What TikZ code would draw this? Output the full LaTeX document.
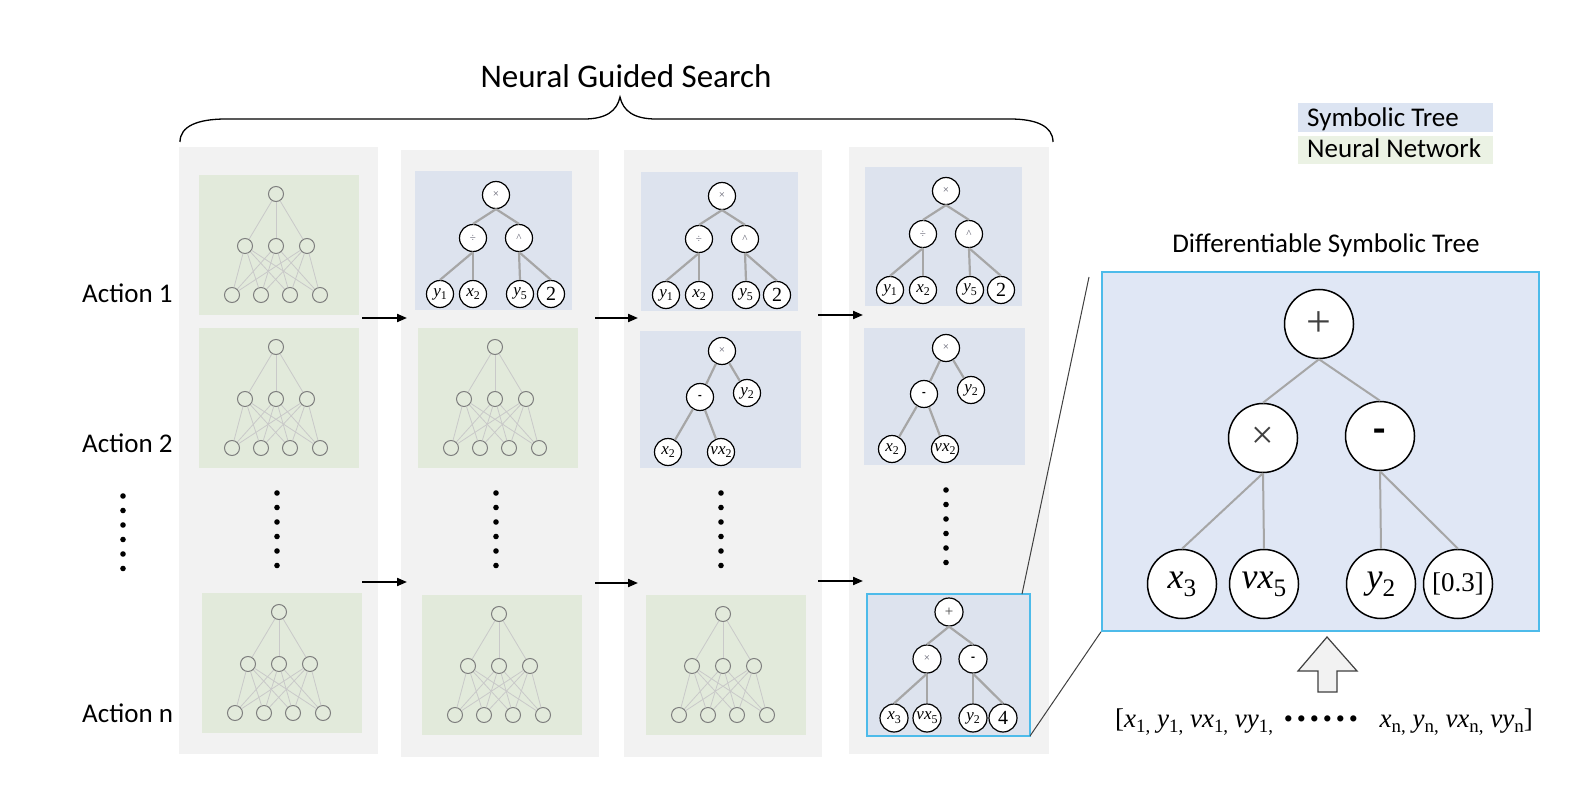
\documentclass[tikz,border=0pt]{standalone}
\usepackage{fontspec}
\usepackage{graphicx}
\setmainfont{Carlito}
\newfontfamily\tms{Liberation Serif}[ItalicFont={Liberation Serif Italic}]
\usetikzlibrary{arrows.meta}
\definecolor{colbg}{HTML}{F2F2F2}
\definecolor{nnbg}{HTML}{E2EADB}
\definecolor{stbg}{HTML}{DDE3EE}
\definecolor{bigbg}{HTML}{E0E7F5}
\definecolor{legblue}{HTML}{DCE4F2}
\definecolor{leggreen}{HTML}{EBF2E4}
\definecolor{cyanb}{HTML}{4DBBEA}
\definecolor{edgegray}{HTML}{A6A6A6}
\definecolor{nnedge}{HTML}{C9C9C9}
\definecolor{nncirc}{HTML}{7F7F7F}
\definecolor{opgray}{HTML}{5A5A6A}
\definecolor{linegray}{HTML}{404040}
\newcommand\sub[1]{\raisebox{-0.22em}{\scalebox{0.7}{\upshape #1}}}
\newcommand\vi[2]{\textit{#1}\sub{#2}}
\newcommand\fs[1]{\fontsize{#1}{#1}\selectfont}
\newcommand\bul{\makebox[13pt]{\textbullet}}
\tikzset{
 tn/.style={circle, draw=black, line width=1.2pt, fill=white, minimum size=27pt, inner sep=0pt, font=\tms\fs{17}},
 te/.style={draw=edgegray, line width=2.2pt},
 bn/.style={tn, minimum size=69pt, line width=1.5pt, font=\tms\fs{36}},
 be/.style={draw=edgegray, line width=2pt},
 nnn/.style={circle, draw=nncirc, line width=1pt, minimum size=15pt, inner sep=0pt},
 nne/.style={draw=nnedge, line width=0.8pt},
 arr/.style={-{Triangle[length=10pt,width=8pt]}, line width=2pt},
 lbl/.style={font=\fs{27}, anchor=base west, inner sep=0pt},
 dotc/.style={fill=black},
}
% neural network box: #1 prefix, #2 origin
\newcommand\nnet[2]{%
\begin{scope}[shift={(#2)}]
\fill[nnbg] (0,0) rectangle (160,140);
\node[nnn] (#1t) at (77,19) {};
\node[nnn] (#1m1) at (46,71) {};
\node[nnn] (#1m2) at (77,71) {};
\node[nnn] (#1m3) at (108,71) {};
\node[nnn] (#1b1) at (33,120) {};
\node[nnn] (#1b2) at (62,120) {};
\node[nnn] (#1b3) at (91,120) {};
\node[nnn] (#1b4) at (121,120) {};
\foreach \i in {1,2,3}{\draw[nne] (#1t) -- (#1m\i);
  \foreach \j in {1,2,3,4}{\draw[nne] (#1m\i) -- (#1b\j);}}
\end{scope}}
% tree A: x ( / (y1,x2), ^ (y5,2) )
\newcommand\treeA[2]{%
\begin{scope}[shift={(#2)}]
\fill[stbg] (0,0) rectangle (157,139);
\node[tn] (#1r) at (81,24) {\color{opgray}\fs{11}×};
\node[tn] (#1a) at (58,67) {\color{opgray}\fs{11}÷};
\node[tn] (#1b) at (104,67) {\color{opgray}\fs{11}\textasciicircum};
\node[tn] (#1l1) at (25,123) {\vi{y}{1}};
\node[tn] (#1l2) at (58,123) {\vi{x}{2}};
\node[tn] (#1l3) at (105,123) {\vi{y}{5}};
\node[tn] (#1l4) at (136,123) {\fs{20}2};
\draw[te] (#1r.south) -- (#1a.north);
\draw[te] (#1r.south) -- (#1b.north);
\draw[te] (#1a.south) -- (#1l1.north);
\draw[te] (#1a.south) -- (#1l2.north);
\draw[te] (#1b.south) -- (#1l3.north);
\draw[te] (#1b.south) -- (#1l4.north);
\end{scope}}
% tree B: x ( - (x2, vx2), y2 )
\newcommand\treeB[2]{%
\begin{scope}[shift={(#2)}]
\fill[stbg] (0,0) rectangle (161,137);
\node[tn] (#1r) at (82,20) {\color{opgray}\fs{11}×};
\node[tn] (#1m) at (60,66) {\rmfamily\bfseries\fs{12}-};
\node[tn] (#1y) at (107,62) {\vi{y}{2}};
\node[tn] (#1x) at (28,121) {\vi{x}{2}};
\node[tn] (#1v) at (81,121) {\vi{vx}{2}};
\draw[te] (#1r) -- (#1m);
\draw[te] (#1r) -- (#1y);
\draw[te] (#1m) -- (#1x);
\draw[te] (#1m) -- (#1v);
\end{scope}}
\begin{document}
\begin{tikzpicture}[x=1pt,y=-1pt]
\useasboundingbox[fill=white] (0,0) rectangle (1582,786);
% title and brace
\node[font=\fs{33}, anchor=base, inner sep=0pt] (title) at (626,88) {Neural Guided Search};
\draw[line width=1.3pt] (180,142) .. controls (180,126) and (198,119) .. (226,119) -- (584,119)
  .. controls (606,119) and (617,111) .. (620,97) .. controls (623,111) and (634,119) .. (656,119)
  -- (1010,119) .. controls (1036,119) and (1053,126) .. (1053,142);
% columns
\fill[colbg] (179,147) rectangle (378,754);
\fill[colbg] (401,150) rectangle (599,757);
\fill[colbg] (624,150) rectangle (822,757);
\fill[colbg] (849,147) rectangle (1049,754);
% column 1
\nnet{a1}{199,175}
\nnet{a2}{199,328}
\nnet{a3}{202,593}
% column 2
\treeA{b1}{415,171}
\nnet{b2}{418,328}
\nnet{b3}{422,595}
% column 3
\treeA{c1}{641,172}
\treeB{c2}{640,331}
\nnet{c3}{646,595}
% column 4
\treeA{d1}{865,167}
\treeB{d2}{864,328}
\begin{scope}[shift={(867,594)}]
\draw[fill=stbg, draw=cyanb, line width=1.5pt] (0,0) rectangle (163,142);
\coordinate (t3ne) at (155,0);
\coordinate (t3se) at (163,142);
\node[tn, minimum size=28pt] (er) at (82,18) {\color{linegray}\fs{15}+};
\node[tn, minimum size=28pt] (ea) at (60,65) {\color{opgray}\fs{11}×};
\node[tn, minimum size=28pt] (eb) at (106,65) {\rmfamily\bfseries\fs{13}-};
\node[tn, minimum size=28pt] (el1) at (27,124) {\vi{x}{3}};
\node[tn, minimum size=28pt] (el2) at (60,124) {\vi{vx}{5}};
\node[tn, minimum size=28pt] (el3) at (106,124) {\vi{y}{2}};
\node[tn, minimum size=28pt] (el4) at (136,124) {\fs{20}4};
\draw[te] (er.south) -- (ea.north);
\draw[te] (er.south) -- (eb.north);
\draw[te] (ea.south) -- (el1.north);
\draw[te] (ea.south) -- (el2.north);
\draw[te] (eb.south) -- (el3.north);
\draw[te] (eb.south) -- (el4.north);
\end{scope}
% vertical dots
\foreach \x/\y in {123/496, 277/493, 496/493, 721/493, 946/490}{
  \foreach \k in {0,...,5}{\fill[dotc] (\x,\y+14.5*\k) circle (2.8pt);}}
% arrows
\coordinate (p1s) at (362,318); \coordinate (p1e) at (407,318);
\coordinate (p2s) at (595,318); \coordinate (p2e) at (638,318);
\coordinate (p3s) at (818,315); \coordinate (p3e) at (863,315);
\coordinate (q1s) at (362,582); \coordinate (q1e) at (407,582);
\coordinate (q2s) at (595,583); \coordinate (q2e) at (638,583);
\coordinate (q3s) at (818,581); \coordinate (q3e) at (863,581);
\foreach \a in {p1,p2,p3,q1,q2,q3}{\draw[arr] (\a s) -- (\a e);}
% labels
\node[lbl] (act1) at (82,302) {Action 1};
\node[lbl] (act2) at (82,452) {Action 2};
\node[lbl] (actn) at (82,722) {Action n};
% legend
\fill[legblue] (1298,103) rectangle (1493,132);
\fill[leggreen] (1298,136) rectangle (1493,164);
\node[lbl] (legst) at (1307,127) {Symbolic Tree};
\node[lbl] (legnn) at (1307,158) {Neural Network};
% big tree
\node[font=\fs{27}, anchor=base, inner sep=0pt] (dtitle) at (1326,253) {Differentiable Symbolic Tree};
\node[draw=cyanb, fill=bigbg, line width=1.8pt, minimum width=437pt, minimum height=359pt, anchor=north west, inner sep=0pt] (bigbox) at (1101,271) {};
\coordinate (bigtop) at (1089,277);
\draw[linegray, line width=1pt] (t3ne) -- (bigtop);
\draw[linegray, line width=1pt] (t3se) -- (bigbox.south west);
\node[bn] (gr) at (1319,324) {\color{linegray}\fs{44}+};
\node[bn] (ga) at (1263,438) {\color{linegray}\fs{40}×};
\node[bn] (gb) at (1380,436) {\rmfamily\bfseries\fs{40}-};
\node[bn] (gl1) at (1182,584) {\vi{x}{3}};
\node[bn] (gl2) at (1264,584) {\vi{vx}{5}};
\node[bn] (gl3) at (1381,584) {\vi{y}{2}};
\node[bn] (gl4) at (1458,584) {\fs{27}[0.3]};
\draw[be] (gr.south) -- (ga.north);
\draw[be] (gr.south) -- (gb.north);
\draw[be] (ga.south) -- (gl1.north);
\draw[be] (ga.south) -- (gl2.north);
\draw[be] (gb.south) -- (gl3.north);
\draw[be] (gb.south) -- (gl4.north);
% block arrow
\draw[fill=colbg, draw=linegray, line width=1.2pt] (1327,637) -- (1357,671) -- (1337,671) -- (1337,692)
  -- (1318,692) -- (1318,671) -- (1298,671) -- cycle;
% input vector
\node[font=\tms\fs{27}, anchor=base west, inner sep=0pt] (vecl) at (1115,727)
  {[\vi{x}{1,} \vi{y}{1,} \vi{vx}{1,} \vi{vy}{1,}};
\node[font=\tms\fs{26}, anchor=base, inner sep=0pt] (vecm) at (1321,727)
  {\bul\bul\bul\bul\bul\bul};
\node[font=\tms\fs{27}, anchor=base east, inner sep=0pt] (vecr) at (1533,727)
  {\vi{x}{n,} \vi{y}{n,} \vi{vx}{n,} \vi{vy}{n}]};
\end{tikzpicture}
\end{document}
